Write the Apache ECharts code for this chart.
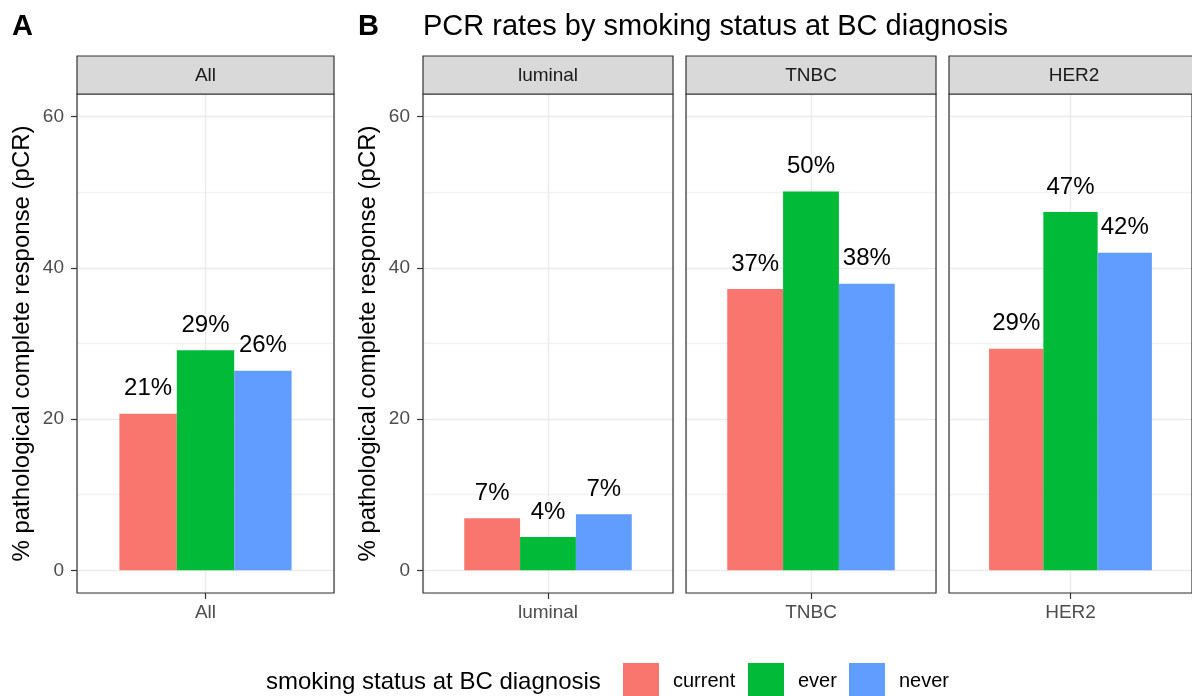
<!DOCTYPE html>
<html>
<head>
<meta charset="utf-8">
<script src="https://cdn.jsdelivr.net/npm/echarts@6/dist/echarts.min.js"></script>
<style>
html,body{margin:0;padding:0;background:#fff;}
#chart{width:1192px;height:696px;}
</style>
</head>
<body>
<div id="chart"></div>
<script>
// ---- data ----
const panels = ['All', 'luminal', 'TNBC', 'HER2'];
const statuses = ['current', 'ever', 'never'];
const currentVals = [20.7, 6.9, 37.2, 29.3];
const everVals = [29.1, 4.4, 50.1, 47.4];
const neverVals = [26.4, 7.4, 37.9, 42.0];
const yTicks = [0, 20, 40, 60];
const yRange = [-3, 63];
const colors = ['#F8766D', '#00BA38', '#619CFF'];
const yTitle = '% pathological complete response (pCR)';
const mainTitle = 'PCR rates by smoking status at BC diagnosis';
const legendTitle = 'smoking status at BC diagnosis';

// ---- layout ----
const FONT = '"Liberation Sans", Arial, Helvetica, sans-serif';
const lefts = [77, 423, 686, 949];
const widths = [257, 250, 250, 250];
const gridTop = 94, gridH = 499, stripTop = 56, stripH = 38;
const showY = [true, true, false, false];

const seriesVals = [currentVals, everVals, neverVals];
const grids = [], xAxes = [], yAxes = [], series = [], graphics = [];

panels.forEach((p, i) => {
  grids.push({
    left: lefts[i], top: gridTop, width: widths[i], height: gridH,
    show: true, borderColor: '#333333', borderWidth: 1.2, backgroundColor: 'transparent', z: 3
  });
  // category axis
  xAxes.push({
    type: 'category', gridIndex: i, data: [p], position: 'bottom',
    axisLine: {show: false, onZero: false},
    axisTick: {show: true, alignWithLabel: true, length: 6, lineStyle: {color: '#333333', width: 1.2}},
    axisLabel: {show: true, margin: 10, fontSize: 19, color: '#4D4D4D', fontFamily: FONT},
    splitLine: {show: false}
  });
  // hidden value axis for vertical grid line at category centre
  xAxes.push({
    type: 'value', gridIndex: i, min: 0, max: 2, interval: 1, position: 'top',
    axisLine: {show: false, onZero: false}, axisTick: {show: false}, axisLabel: {show: false},
    splitLine: {show: true, lineStyle: {color: '#EBEBEB', width: 1.4}}
  });
  yAxes.push({
    type: 'value', gridIndex: i, min: yRange[0], max: yRange[1], position: 'left',
    name: showY[i] ? yTitle : '', nameLocation: 'middle', nameGap: 43,
    nameTextStyle: {fontSize: 24, color: '#000', fontFamily: FONT},
    axisLine: {show: false, onZero: false},
    axisTick: {show: showY[i], length: 6, customValues: yTicks, lineStyle: {color: '#333333', width: 1.2}},
    axisLabel: {show: showY[i], customValues: yTicks, margin: 13, fontSize: 19, color: '#4D4D4D', fontFamily: FONT},
    splitLine: {show: false}
  });
  // hidden value axis for major/minor horizontal gridlines
  yAxes.push({
    type: 'value', gridIndex: i, min: yRange[0], max: yRange[1], position: 'right',
    axisLine: {show: false, onZero: false}, axisTick: {show: false}, axisLabel: {show: false},
    splitLine: {show: true, lineStyle: {color: ['#F2F2F2', '#EBEBEB'], width: 1.3}}
  });
  statuses.forEach((s, k) => {
    series.push({
      name: s, type: 'bar', xAxisIndex: 2 * i, yAxisIndex: 2 * i,
      data: [seriesVals[k][i]],
      itemStyle: {color: colors[k]},
      barGap: '0%', barCategoryGap: '33%',
      label: {
        show: true, position: 'top', distance: 13,
        formatter: (d) => Math.round(d.value) + '%',
        fontSize: 24, color: '#000', fontFamily: FONT
      },
      emphasis: {disabled: true}
    });
  });
  // facet strip
  graphics.push({
    type: 'rect', shape: {x: lefts[i], y: stripTop, width: widths[i], height: stripH},
    style: {fill: '#D9D9D9', stroke: '#333333', lineWidth: 1.2}, z: 10
  });
  graphics.push({
    type: 'text', x: lefts[i] + widths[i] / 2, y: stripTop + stripH / 2 + 1,
    style: {text: p, fontSize: 19, fill: '#1A1A1A', fontFamily: FONT, align: 'center', verticalAlign: 'middle'}, z: 11
  });
});

graphics.push({type: 'text', x: 12, y: 27, style: {text: 'A', fontSize: 29, fontWeight: 'bold', fill: '#000', fontFamily: FONT, verticalAlign: 'middle'}});
graphics.push({type: 'text', x: 358, y: 27, style: {text: 'B', fontSize: 29, fontWeight: 'bold', fill: '#000', fontFamily: FONT, verticalAlign: 'middle'}});
graphics.push({type: 'text', x: 423, y: 27, style: {text: mainTitle, fontSize: 29, fill: '#000', fontFamily: FONT, verticalAlign: 'middle'}});
graphics.push({type: 'text', x: 266, y: 682, style: {text: legendTitle, fontSize: 24, fill: '#000', fontFamily: FONT, verticalAlign: 'middle'}});

const legendLefts = [623, 748, 849];
const legends = statuses.map((s, k) => ({
  data: [s], left: legendLefts[k], top: 663, orient: 'horizontal', padding: 0,
  icon: 'rect', itemWidth: 36, itemHeight: 36, selectedMode: false,
  textStyle: {fontSize: 20, color: '#000', fontFamily: FONT, padding: [0, 0, 0, 9]}
}));

const chart = echarts.init(document.getElementById('chart'), null, {renderer: 'canvas'});
chart.setOption({
  animation: false,
  backgroundColor: '#ffffff',
  textStyle: {fontFamily: FONT},
  grid: grids, xAxis: xAxes, yAxis: yAxes, series: series,
  legend: legends,
  graphic: graphics
});
</script>
</body>
</html>
